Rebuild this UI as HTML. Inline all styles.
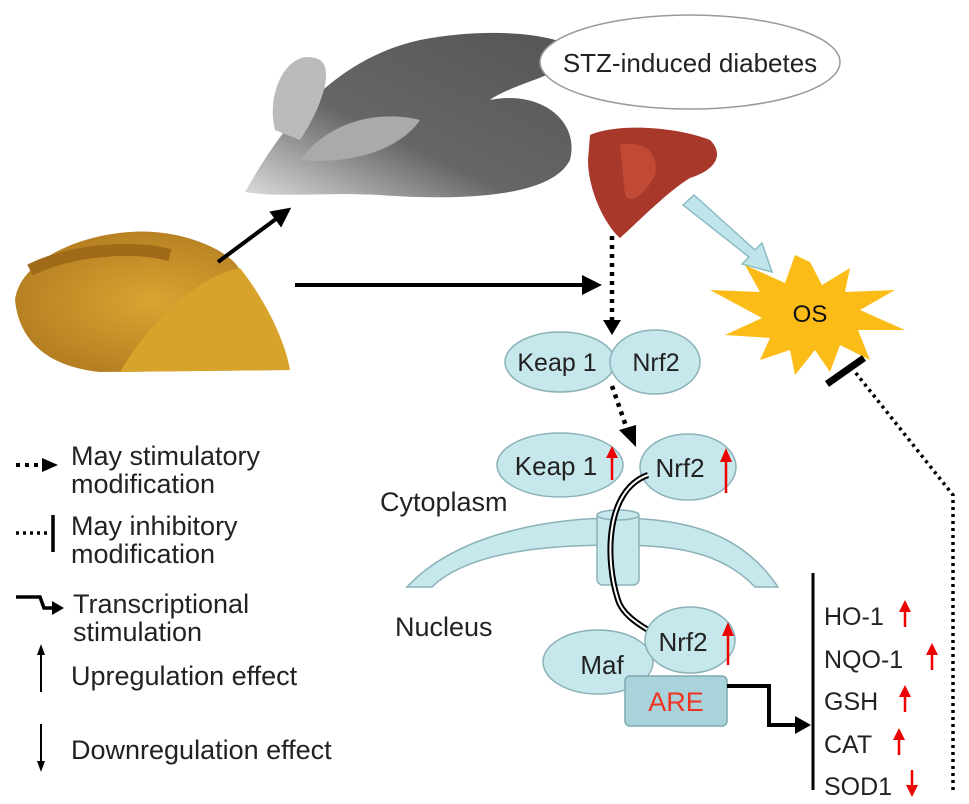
<!DOCTYPE html>
<html><head><meta charset="utf-8"><style>
html,body{margin:0;padding:0;background:#fff}
svg{display:block}
text{font-family:"Liberation Sans",sans-serif}
</style></head><body>
<svg width="969" height="804" viewBox="0 0 969 804" xmlns="http://www.w3.org/2000/svg">
<defs>
<marker id="ah2" markerWidth="5" markerHeight="5" refX="4" refY="2.5" orient="auto" markerUnits="strokeWidth"><path d="M0,0 L5,2.5 L0,5 z" fill="#000"/></marker>
<linearGradient id="mg" x1="0" y1="1" x2="1" y2="0"><stop offset="0" stop-color="#ddd"/><stop offset="0.4" stop-color="#666"/><stop offset="1" stop-color="#555"/></linearGradient>
<radialGradient id="tg" cx="0.5" cy="0.5" r="0.6"><stop offset="0" stop-color="#d9a531"/><stop offset="1" stop-color="#b07a20"/></radialGradient>
</defs>
<!-- mouse -->
<path d="M245,192 C280,130 330,60 420,40 C480,28 560,30 585,55 C560,75 510,85 490,100 C540,90 580,120 570,160 C550,200 450,200 380,195 C320,192 280,198 245,192 Z" fill="url(#mg)"/>
<path d="M275,130 C265,90 290,45 320,60 C335,70 320,110 300,140 Z" fill="#bbb"/>
<path d="M300,160 C330,120 380,110 420,120 C400,150 350,165 300,160 Z" fill="#aaa"/>
<!-- STZ ellipse -->
<ellipse cx="690" cy="62" rx="150" ry="47" fill="#fff" stroke="#999" stroke-width="1.5"/>
<text x="690" y="72" font-size="26" text-anchor="middle" fill="#222">STZ-induced diabetes</text>
<!-- liver -->
<path d="M590,135 C620,122 680,128 710,140 C725,155 715,170 690,178 C670,190 645,215 620,238 C605,225 588,190 588,160 Z" fill="#a8382a"/>
<path d="M620,145 C640,140 660,150 655,175 C645,195 630,205 625,195 Z" fill="#c04a35"/>
<!-- turmeric -->
<path d="M15,300 C20,260 80,235 130,232 C180,228 230,250 240,270 L290,370 L100,372 C60,368 20,350 15,300 Z" fill="url(#tg)"/>
<path d="M120,372 C150,320 200,275 240,268 C265,300 285,340 290,370 Z" fill="#d8a32a"/>
<path d="M30,270 C70,250 130,245 170,255" stroke="#a06a18" stroke-width="12" fill="none"/>
<!-- arrows -->
<line x1="218" y1="262" x2="288" y2="210" stroke="#000" stroke-width="4" marker-end="url(#ah2)"/>
<line x1="295" y1="285" x2="598" y2="285" stroke="#000" stroke-width="4" marker-end="url(#ah2)"/>
<line x1="612" y1="236" x2="612" y2="322" stroke="#000" stroke-width="4.5" stroke-dasharray="4,5" />
<path d="M603,320 L621,320 L612,335 Z" fill="#000"/>
<!-- blue fat arrow -->
<path d="M683,205 L694,195 L755,250 L762,243 L772,272 L742,264 L749,257 Z" fill="#bfe4ea" stroke="#8bbcc4" stroke-width="1.5"/>
<!-- OS star -->
<polygon points="810,262 822,285 850,268 845,292 895,290 860,310 905,330 858,330 870,360 840,345 830,372 815,350 795,375 790,350 760,360 770,338 725,335 762,318 710,290 760,292 745,265 785,283 795,255" fill="#fbbc18"/>
<text x="810" y="322" font-size="24" text-anchor="middle" fill="#111">OS</text>
<!-- Keap1 Nrf2 -->
<ellipse cx="560" cy="362" rx="55" ry="30" fill="#c6e7ec" stroke="#8bb2b8" stroke-width="1.5"/>
<ellipse cx="655" cy="362" rx="45" ry="32" fill="#c6e7ec" stroke="#8bb2b8" stroke-width="1.5"/>
<text x="557" y="371" font-size="25" text-anchor="middle" fill="#222">Keap 1</text>
<text x="656" y="371" font-size="25" text-anchor="middle" fill="#222">Nrf2</text>
<line x1="612" y1="386" x2="628" y2="432" stroke="#000" stroke-width="4.5" stroke-dasharray="4,5"/>
<path d="M619,430 L636,425 L636,447 Z" fill="#000"/>
<!-- Keap1 up / Nrf2 up -->
<ellipse cx="560" cy="465" rx="63" ry="32" fill="#c6e7ec" stroke="#8bb2b8" stroke-width="1.5"/>
<ellipse cx="688" cy="467" rx="48" ry="33" fill="#c6e7ec" stroke="#8bb2b8" stroke-width="1.5"/>
<text x="556" y="475" font-size="26" text-anchor="middle" fill="#222">Keap 1</text>
<text x="680" y="477" font-size="26" text-anchor="middle" fill="#222">Nrf2</text>
<line x1="612" y1="480" x2="612" y2="456" stroke="#e00" stroke-width="2.5"/><path d="M606,458 L612,446 L618,458 Z" fill="#e00"/>
<line x1="726" y1="493" x2="726" y2="460" stroke="#e00" stroke-width="2.5"/><path d="M720,462 L726,448 L732,462 Z" fill="#e00"/>
<text x="380" y="511" font-size="27" fill="#222">Cytoplasm</text>
<!-- nuclear membrane -->
<path d="M407,587 C460,530 560,518 615,518 C680,518 740,530 778,587 L755,587 C720,550 670,545 615,545 C555,545 470,550 432,587 Z" fill="#c6e7ec" stroke="#8bb2b8" stroke-width="1.5"/>
<rect x="597" y="512" width="42" height="73" rx="6" fill="#c6e7ec" stroke="#8bb2b8" stroke-width="1.5"/>
<ellipse cx="618" cy="515" rx="21" ry="5" fill="#c6e7ec" stroke="#8bb2b8" stroke-width="1.5"/>
<text x="395" y="636" font-size="27" fill="#222">Nucleus</text>
<!-- curved double arrow -->
<path d="M648,475 C605,490 605,560 618,600 C622,613 635,622 648,630" fill="none" stroke="#000" stroke-width="6"/>
<path d="M648,475 C605,490 605,560 618,600 C622,613 635,622 648,630" fill="none" stroke="#fff" stroke-width="2"/>
<!-- Nucleus complex -->
<ellipse cx="598" cy="662" rx="55" ry="32" fill="#c6e7ec" stroke="#8bb2b8" stroke-width="1.5"/>
<ellipse cx="690" cy="640" rx="45" ry="33" fill="#c6e7ec" stroke="#8bb2b8" stroke-width="1.5"/>
<text x="602" y="674" font-size="26" text-anchor="middle" fill="#222">Maf</text>
<text x="683" y="651" font-size="26" text-anchor="middle" fill="#222">Nrf2</text>
<line x1="728" y1="665" x2="728" y2="634" stroke="#e00" stroke-width="2.5"/><path d="M722,636 L728,622 L734,636 Z" fill="#e00"/>
<rect x="625" y="676" width="102" height="50" rx="5" fill="#a9d3da" stroke="#7fa9b0" stroke-width="1.5"/>
<text x="676" y="711" font-size="27" text-anchor="middle" fill="#e32">ARE</text>
<polyline points="727,686 769,686 769,725 798,725" fill="none" stroke="#000" stroke-width="4"/>
<path d="M795,716 L811,725 L795,734 Z" fill="#000"/>
<!-- gene list -->
<line x1="813" y1="573" x2="813" y2="790" stroke="#000" stroke-width="3"/>
<g font-size="25" fill="#222">
<text x="824" y="625">HO-1</text>
<text x="824" y="668">NQO-1</text>
<text x="824" y="710">GSH</text>
<text x="824" y="753">CAT</text>
<text x="824" y="795">SOD1</text>
</g>
<g stroke="#e00" stroke-width="2.5" fill="#e00">
<line x1="905" y1="627" x2="905" y2="610"/><path d="M899,612 L905,600 L911,612 Z" stroke="none"/>
<line x1="932" y1="670" x2="932" y2="653"/><path d="M926,655 L932,643 L938,655 Z" stroke="none"/>
<line x1="905" y1="712" x2="905" y2="695"/><path d="M899,697 L905,685 L911,697 Z" stroke="none"/>
<line x1="899" y1="755" x2="899" y2="738"/><path d="M893,740 L899,728 L905,740 Z" stroke="none"/>
<line x1="912" y1="770" x2="912" y2="787"/><path d="M906,785 L912,797 L918,785 Z" stroke="none"/>
</g>
<!-- inhibitory dotted -->
<polyline points="953,790 953,495 855,372" fill="none" stroke="#000" stroke-width="3.5" stroke-dasharray="3,4"/>
<line x1="827" y1="384" x2="864" y2="358" stroke="#000" stroke-width="7"/>
<!-- legend -->
<line x1="16" y1="465" x2="42" y2="465" stroke="#000" stroke-width="4" stroke-dasharray="4,5"/>
<path d="M42,458 L58,465 L42,472 Z" fill="#000"/>
<line x1="16" y1="533" x2="48" y2="533" stroke="#000" stroke-width="3.5" stroke-dasharray="3,4"/>
<line x1="53" y1="515" x2="53" y2="552" stroke="#000" stroke-width="3.5"/>
<polyline points="16,597 40,597 44,608 56,608" fill="none" stroke="#000" stroke-width="3.5"/>
<path d="M52,601 L64,608 L52,615 Z" fill="#000"/>
<line x1="41" y1="692" x2="41" y2="652" stroke="#000" stroke-width="2"/><path d="M37,655 L41,644 L45,655 Z" fill="#000"/>
<line x1="41" y1="724" x2="41" y2="763" stroke="#000" stroke-width="2"/><path d="M37,761 L41,772 L45,761 Z" fill="#000"/>
<g font-size="27" fill="#222">
<text x="71" y="465">May stimulatory</text>
<text x="71" y="493">modification</text>
<text x="71" y="535">May inhibitory</text>
<text x="71" y="563">modification</text>
<text x="73" y="613">Transcriptional</text>
<text x="73" y="641">stimulation</text>
<text x="71" y="685">Upregulation effect</text>
<text x="71" y="759">Downregulation effect</text>
</g>
</svg>
</body></html>
